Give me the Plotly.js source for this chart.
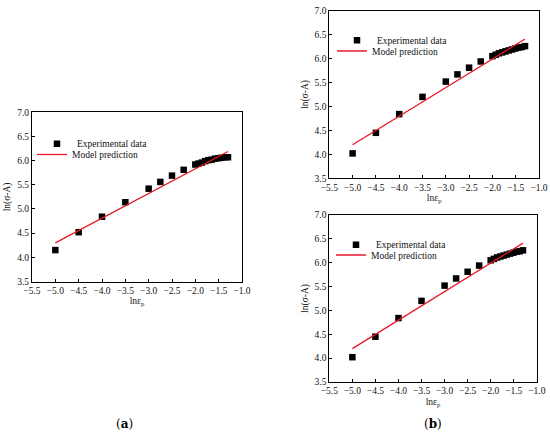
<!DOCTYPE html>
<html>
<head>
<meta charset="utf-8">
<script src="https://cdn.plot.ly/plotly-3.0.1.min.js"></script>
<style>html,body{margin:0;padding:0;background:#fff;}#chart{width:550px;height:438px;}</style>
</head>
<body>
<div id="chart"></div>
<script>
// Panel (a)
var xA = [-5.0, -4.5, -4.0, -3.5, -3.0, -2.75, -2.5, -2.25, -2.0, -1.93, -1.86, -1.79, -1.72, -1.65, -1.58, -1.51, -1.44, -1.37, -1.30];
var yA = [4.15, 4.52, 4.84, 5.14, 5.42, 5.56, 5.69, 5.81, 5.92, 5.94, 5.96, 5.99, 6.01, 6.02, 6.04, 6.05, 6.06, 6.07, 6.07];
var xLineA = [-5.0, -1.3];
var yLineA = [4.30, 6.19];
// Panel (b)
var xB = [-5.0, -4.5, -4.0, -3.5, -3.0, -2.75, -2.5, -2.25, -2.0, -1.93, -1.86, -1.79, -1.72, -1.65, -1.58, -1.51, -1.44, -1.37, -1.30];
var yB = [4.02, 4.45, 4.84, 5.20, 5.52, 5.67, 5.81, 5.94, 6.05, 6.08, 6.11, 6.13, 6.15, 6.17, 6.19, 6.21, 6.23, 6.24, 6.26];
var xLineB = [-5.0, -1.3];
var yLineB = [4.20, 6.41];

var expName = 'Experimental data';
var modelName = 'Model prediction';
var xTitle = 'ln\u03b5<sub>p</sub>';
var yTitle = 'ln(\u03c3-A)';

var FONT = 'Liberation Serif, Times New Roman, serif';
var RED = 'rgb(232,24,40)';
var TXT = '#111';

function pts(x, y, xa, ya, leg) {
  return {x: x, y: y, xaxis: xa, yaxis: ya, type: 'scatter', mode: 'markers', name: expName,
    marker: {symbol: 'square', size: 6.5, color: '#000'}, legend: leg, cliponaxis: false};
}
function line(x, y, xa, ya, leg) {
  return {x: x, y: y, xaxis: xa, yaxis: ya, type: 'scatter', mode: 'lines', name: modelName,
    line: {color: RED, width: 1.3}, legend: leg};
}
var data = [
  pts(xA, yA, 'x', 'y', 'legend'), line(xLineA, yLineA, 'x', 'y', 'legend4'),
  pts(xB, yB, 'x2', 'y2', 'legend2'), line(xLineB, yLineB, 'x2', 'y2', 'legend5'),
  pts(xB, yB, 'x3', 'y3', 'legend3'), line(xLineB, yLineB, 'x3', 'y3', 'legend6')
];

function xax(dom, anchor) {
  return {domain: dom, anchor: anchor, range: [-5.5, -1.0], dtick: 0.5, tick0: -5.5, tickformat: '.1f',
    ticks: 'inside', ticklen: 3, tickcolor: '#000', showline: true, linecolor: '#000', linewidth: 1,
    mirror: true, showgrid: false, zeroline: false,
    tickfont: {family: FONT, size: 9.5, color: TXT},
    title: {text: xTitle, font: {family: FONT, size: 9.5, color: TXT}, standoff: 2}};
}
function yax(dom, anchor) {
  return {domain: dom, anchor: anchor, range: [3.5, 7.0], dtick: 0.5, tick0: 3.5, tickformat: '.1f',
    ticks: 'inside', ticklen: 3, tickcolor: '#000', showline: true, linecolor: '#000', linewidth: 1,
    mirror: true, showgrid: false, zeroline: false,
    tickfont: {family: FONT, size: 9.5, color: TXT},
    title: {text: yTitle, font: {family: FONT, size: 9.5, color: TXT}, standoff: 4}};
}
function leg(x, y) {
  return {x: x, y: y, xanchor: 'left', yanchor: 'middle', bgcolor: 'rgba(0,0,0,0)', borderwidth: 0,
    font: {family: FONT, size: 9.5, color: TXT}, tracegroupgap: 0, itemwidth: 30};
}

var layout = {
  width: 550, height: 438,
  margin: {l: 0, r: 0, t: 0, b: 0},
  paper_bgcolor: '#fff', plot_bgcolor: '#fff',
  showlegend: true,
  xaxis: xax([32/550, 242/550], 'y'),
  yaxis: yax([1 - 281.5/438, 1 - 112.3/438], 'x'),
  xaxis2: xax([329.3/550, 539/550], 'y2'),
  yaxis2: yax([1 - 178.3/438, 1 - 10.7/438], 'x2'),
  xaxis3: xax([329.3/550, 536.8/550], 'y3'),
  yaxis3: yax([1 - 382/438, 1 - 215/438], 'x3'),
  legend: leg(37/550, 1 - 143.7/438),
  legend4: leg(32/550, 1 - 154.5/438),
  legend2: leg(337/550, 1 - 40.3/438),
  legend5: leg(332/550, 1 - 51/438),
  legend3: leg(336/550, 1 - 244.7/438),
  legend6: leg(331/550, 1 - 255/438),
  annotations: [
    {text: '(<b>a</b>)', xref: 'paper', yref: 'paper', x: 124/550, y: 1 - 424/438, xanchor: 'center', yanchor: 'middle',
      showarrow: false, font: {family: 'DejaVu Serif, serif', size: 12, color: '#000'}},
    {text: '(<b>b</b>)', xref: 'paper', yref: 'paper', x: 433/550, y: 1 - 424/438, xanchor: 'center', yanchor: 'middle',
      showarrow: false, font: {family: 'DejaVu Serif, serif', size: 12, color: '#000'}}
  ]
};
Plotly.newPlot('chart', data, layout, {staticPlot: true, displayModeBar: false});
</script>
</body>
</html>
